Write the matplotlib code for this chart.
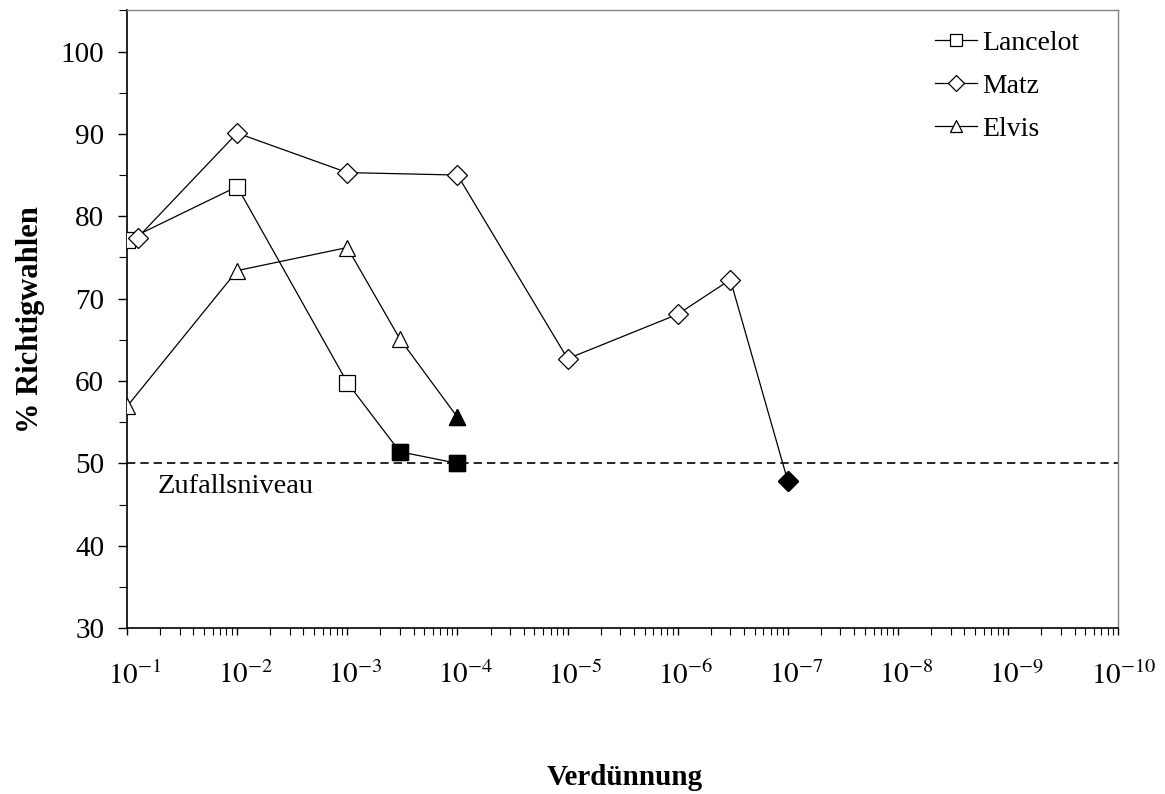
import matplotlib
matplotlib.use('Agg')
import matplotlib.pyplot as plt
from matplotlib.ticker import LogLocator, FixedLocator, NullFormatter, MultipleLocator
from matplotlib.transforms import ScaledTranslation

plt.rcParams['font.family'] = ['Liberation Serif', 'DejaVu Serif']
plt.rcParams['mathtext.fontset'] = 'stix'

# Verdünnung als Kehrwert (1/x), Achse wird als 10^-n beschriftet
lancelot_x = [10, 100, 1000, 3000, 10000]
lancelot_y = [77.1, 83.6, 59.8, 51.4, 50.0]
lancelot_filled = [False, False, False, True, True]

matz_x = [12.5, 100, 1000, 10000, 1e5, 1e6, 3e6, 1e7]
matz_y = [77.4, 90.1, 85.3, 85.0, 62.7, 68.1, 72.3, 47.8]
matz_filled = [False, False, False, False, False, False, False, True]

elvis_x = [10, 100, 1000, 3000, 10000]
elvis_y = [56.9, 73.4, 76.2, 65.1, 55.6]
elvis_filled = [False, False, False, False, True]

decades = list(range(1, 11))
tick_labels = [r'$10^{-%d}$' % d for d in decades]

fig = plt.figure(figsize=(11.65, 7.94), dpi=100)
ax = fig.add_axes([0.109, 0.209, 0.851, 0.778])

series = [
    ('Lancelot', lancelot_x, lancelot_y, lancelot_filled, 's', 11.5),
    ('Matz', matz_x, matz_y, matz_filled, 'D', 10.5),
    ('Elvis', elvis_x, elvis_y, elvis_filled, '^', 12),
]
for name, xs, ys, filled, m, ms in series:
    ax.plot(xs, ys, color='black', lw=0.9, marker=m, markersize=ms,
            markerfacecolor='white', markeredgecolor='black', markeredgewidth=0.9,
            label=name, zorder=3)
    fx = [x for x, f in zip(xs, filled) if f]
    fy = [y for y, f in zip(ys, filled) if f]
    ax.plot(fx, fy, ls='none', marker=m, markersize=ms, color='black', zorder=4)

ax.axhline(50, color='black', lw=1.2, ls=(0, (5, 3)), zorder=2)
ax.text(0.031, 46.4, 'Zufallsniveau', transform=ax.get_yaxis_transform(),
        fontsize=20.5, va='baseline', ha='left')

ax.set_xscale('log')
ax.set_xlim(10, 1e10)
ax.set_ylim(30, 105)
ax.xaxis.set_major_locator(FixedLocator([10.0 ** d for d in decades]))
ax.set_xticklabels(tick_labels)
ax.xaxis.set_minor_locator(LogLocator(base=10, subs=range(2, 10), numticks=20))
ax.xaxis.set_minor_formatter(NullFormatter())
ax.yaxis.set_major_locator(FixedLocator(range(30, 101, 10)))
ax.yaxis.set_minor_locator(MultipleLocator(5))

ax.tick_params(axis='both', which='major', labelsize=21, direction='out', length=6.5, width=1)
ax.tick_params(axis='x', which='major', pad=19, length=5)
ax.tick_params(axis='y', which='major', pad=10)
ax.tick_params(axis='y', which='minor', direction='out', length=6, width=0.8)
ax.tick_params(axis='x', which='minor', direction='out', length=5, width=0.8)

# "10" mittig unter dem Tick, Exponent rechts daneben (wie im Original)
for d, lab in zip(decades, ax.get_xticklabels()):
    dx = 8 if d < 10 else 5
    lab.set_transform(lab.get_transform() + ScaledTranslation(dx / 100, 0, fig.dpi_scale_trans))

ax.spines['left'].set_linewidth(1.2)
ax.spines['bottom'].set_linewidth(1.2)
for s in ['top', 'right']:
    ax.spines[s].set_color('#808080')
    ax.spines[s].set_linewidth(1)

ax.set_ylabel('% Richtigwahlen', fontsize=22, fontweight='bold', labelpad=11)
fig.text(0.5365, 0.011, 'Verdünnung', fontsize=21, fontweight='bold', ha='center', va='baseline')

leg = ax.legend(loc='upper left', frameon=False, fontsize=20, handlelength=1.5,
                handletextpad=0.2, labelspacing=0.63, borderaxespad=0.0,
                bbox_to_anchor=(0.804, 0.985))
for h in leg.legend_handles:
    h.set_markersize(8)

fig.savefig('out.png', dpi=100)
